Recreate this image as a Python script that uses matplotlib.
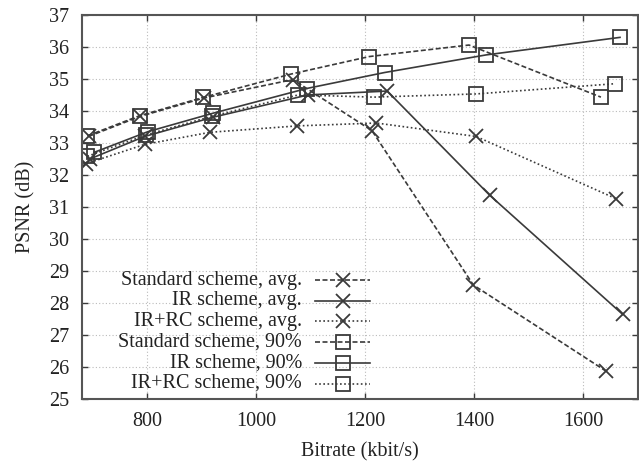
import matplotlib

matplotlib.use("Agg")

import matplotlib.pyplot as plt
from matplotlib.lines import Line2D

# bitrate (kbit/s) and PSNR (dB)
std_avg_x = [692, 787, 903, 1067, 1212, 1398, 1641]
std_avg_y = [33.20, 33.83, 34.40, 34.98, 33.38, 28.55, 25.86]

ir_avg_x = [695, 795, 920, 1095, 1240, 1428, 1672]
ir_avg_y = [32.50, 33.20, 33.80, 34.50, 34.62, 31.36, 27.63]

irrc_avg_x = [688, 795, 915, 1075, 1220, 1403, 1660]
irrc_avg_y = [32.35, 32.95, 33.33, 33.53, 33.62, 33.20, 31.25]

std_90_x = [690, 786, 902, 1063, 1207, 1390, 1632]
std_90_y = [33.22, 33.85, 34.42, 35.15, 35.70, 36.06, 34.43]

ir_90_x = [702, 801, 921, 1092, 1235, 1421, 1667]
ir_90_y = [32.70, 33.35, 33.93, 34.70, 35.20, 35.75, 36.30]

irrc_90_x = [690, 798, 918, 1077, 1215, 1403, 1658]
irrc_90_y = [32.58, 33.25, 33.83, 34.50, 34.43, 34.53, 34.85]

labels = [
    "Standard scheme, avg.",
    "IR scheme, avg.",
    "IR+RC scheme, avg.",
    "Standard scheme, 90%",
    "IR scheme, 90%",
    "IR+RC scheme, 90%",
]

DASHED = (0, (3, 1.5))
DOTTED = (0, (1, 1.5))
series = [
    (std_avg_x, std_avg_y, DASHED, "x"),
    (ir_avg_x, ir_avg_y, "-", "x"),
    (irrc_avg_x, irrc_avg_y, DOTTED, "x"),
    (std_90_x, std_90_y, DASHED, "s"),
    (ir_90_x, ir_90_y, "-", "s"),
    (irrc_90_x, irrc_90_y, DOTTED, "s"),
]

plt.rcParams["font.family"] = ["Liberation Serif", "DejaVu Serif"]

color = "#3a3a3a"
text_color = "#222222"
fsize = 14.5

fig = plt.figure(figsize=(6.39, 4.61), dpi=100)
ax = fig.add_axes([82 / 639, 62.5 / 461, 556 / 639, 383.5 / 461])

for xs, ys, ls, mk in series:
    ax.plot(
        xs,
        ys,
        linestyle=ls,
        color=color,
        linewidth=1.2,
        marker=mk,
        markersize=10 if mk == "x" else 9.5,
        markerfacecolor="none",
        markeredgecolor=color,
        markeredgewidth=1.3,
    )

ax.set_xlim(680, 1700)
ax.set_ylim(25, 37)
ax.set_xticks([800, 1000, 1200, 1400, 1600])
ax.set_yticks(range(25, 38))
ax.grid(True, linestyle=(0, (1, 2)), color="#bbbbbb", linewidth=0.8)
ax.tick_params(
    direction="in", length=4, width=1, colors=color, labelcolor=text_color,
    top=True, right=True, labelsize=fsize,
)
ax.tick_params(axis="x", pad=10)
ax.tick_params(axis="y", pad=9)
for spine in ax.spines.values():
    spine.set_color("#555555")
    spine.set_linewidth(1.5)

ax.set_xlabel("Bitrate (kbit/s)", fontsize=fsize, color=text_color, labelpad=8)
ax.set_ylabel("PSNR (dB)", fontsize=fsize, color=text_color, labelpad=10)

# gnuplot-style key: right-aligned text, sample line after it
row_y0 = 280
row_step = 20.7
for i, ((xs, ys, ls, mk), label) in enumerate(zip(series, labels)):
    py = row_y0 + i * row_step
    fy = 1 - py / 461
    fig.text(302 / 639, fy, label, ha="right", va="center", fontsize=fsize, color=text_color)
    fig.add_artist(Line2D(
        [315 / 639, 370 / 639], [fy, fy], linestyle=ls, color=color, linewidth=1.2,
    ))
    fig.add_artist(Line2D(
        [343 / 639], [fy], marker=mk, markersize=10 if mk == "x" else 9.5,
        markerfacecolor="none",
        markeredgecolor=color, markeredgewidth=1.3, linestyle="none",
    ))

fig.savefig("out.png", dpi=100)
